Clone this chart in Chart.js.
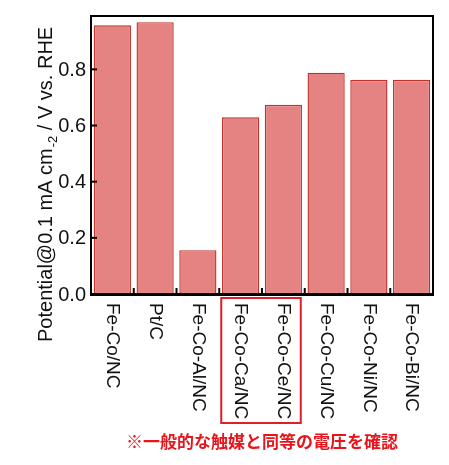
<!DOCTYPE html>
<html lang="ja">
<head>
  <meta charset="UTF-8" />
  <title>Potential bar chart</title>
  <script src="https://cdn.jsdelivr.net/npm/chart.js"></script>
  <style>
    body {
      margin: 0;
      padding: 0;
      background: #ffffff;
    }
    canvas {
      display: block;
    }
  </style>
</head>
<body>
  <canvas id="potChart" width="449" height="465"></canvas>

<script>
  // data
  const catalysts = ['Fe-Co/NC', 'Pt/C', 'Fe-Co-Al/NC', 'Fe-Co-Ca/NC', 'Fe-Co-Ce/NC', 'Fe-Co-Cu/NC', 'Fe-Co-Ni/NC', 'Fe-Co-Bi/NC'];
  const potentials = [0.957, 0.968, 0.156, 0.629, 0.674, 0.788, 0.763, 0.763];
  const yTicks = [0.0, 0.2, 0.4, 0.6, 0.8];
  const highlighted = [3, 4];
  const note = '※一般的な触媒と同等の電圧を確認';

  const latinFont = '"Liberation Sans", Arial, sans-serif';

  // frame, inward ticks, tick labels, axis title, box and note
  const decorations = {
    id: 'decorations',
    afterDraw(chart) {
      const ctx = chart.ctx;
      const area = chart.chartArea;
      const xs = chart.scales.x;
      const ys = chart.scales.y;
      ctx.save();

      // frame
      ctx.strokeStyle = '#000';
      ctx.lineWidth = 2;
      ctx.strokeRect(area.left, area.top, area.right - area.left, area.bottom - area.top);
      ctx.lineWidth = 3;
      ctx.beginPath();
      ctx.moveTo(area.left - 1, area.bottom + 0.5);
      ctx.lineTo(area.right + 1, area.bottom + 0.5);
      ctx.stroke();

      // y ticks + labels
      ctx.lineWidth = 2;
      ctx.fillStyle = '#111';
      ctx.font = '20px ' + latinFont;
      ctx.textAlign = 'right';
      ctx.textBaseline = 'middle';
      yTicks.forEach(v => {
        const y = ys.getPixelForValue(v);
        ctx.beginPath();
        ctx.moveTo(area.left, y);
        ctx.lineTo(area.left + 6, y);
        ctx.stroke();
        ctx.fillText(v.toFixed(1), area.left - 5, y + 1);
      });

      // x ticks at category boundaries
      for (let i = 0; i <= catalysts.length; i++) {
        const x = xs.getPixelForValue(i - 0.5);
        ctx.beginPath();
        ctx.moveTo(x, area.bottom);
        ctx.lineTo(x, area.bottom - 6);
        ctx.stroke();
      }

      // x labels, reading top to bottom
      ctx.font = '19px ' + latinFont;
      ctx.textAlign = 'left';
      ctx.textBaseline = 'middle';
      catalysts.forEach((c, i) => {
        const x = xs.getPixelForValue(i);
        ctx.save();
        ctx.translate(x, area.bottom + 9);
        ctx.rotate(Math.PI / 2);
        ctx.fillText(c, 0, 0);
        ctx.restore();
      });

      // red box round the highlighted labels
      const bx0 = xs.getPixelForValue(highlighted[0] - 0.5) + 2;
      const bx1 = xs.getPixelForValue(highlighted[highlighted.length - 1] + 0.5) - 4;
      ctx.strokeStyle = '#dc1f2a';
      ctx.lineWidth = 2;
      ctx.strokeRect(bx0, area.bottom + 4, bx1 - bx0, 125);

      // y axis title with the cm^-2 exponent
      ctx.fillStyle = '#111';
      ctx.translate(52, 342);
      ctx.rotate(-Math.PI / 2);
      ctx.textAlign = 'left';
      ctx.textBaseline = 'alphabetic';
      let pos = 0;
      ctx.font = '20px ' + latinFont;
      const part1 = 'Potential@0.1 mA cm';
      ctx.fillText(part1, pos, 0);
      pos += ctx.measureText(part1).width;
      ctx.font = '13px ' + latinFont;
      ctx.fillText('-2', pos + 1, 5);
      pos += ctx.measureText('-2').width + 1;
      ctx.font = '20px ' + latinFont;
      ctx.fillText(' / V vs. RHE', pos, 0);
      ctx.restore();

      // note under the chart
      ctx.save();
      ctx.fillStyle = '#e8141c';
      ctx.font = 'bold 17px "Noto Sans CJK JP", sans-serif';
      ctx.textAlign = 'center';
      ctx.textBaseline = 'middle';
      ctx.fillText(note, 262, 442);
      ctx.restore();
    }
  };

  const whiteBg = {
    id: 'whiteBg',
    beforeDraw(chart) {
      const ctx = chart.ctx;
      ctx.save();
      ctx.fillStyle = '#ffffff';
      ctx.fillRect(0, 0, chart.width, chart.height);
      ctx.restore();
    }
  };

  const chart = new Chart(document.getElementById('potChart').getContext('2d'), {
    type: 'bar',
    data: {
      labels: catalysts,
      datasets: [{
        data: potentials,
        backgroundColor: '#e48381',
        borderColor: '#c2302a',
        borderWidth: 1.4,
        borderSkipped: false,
        barPercentage: 0.87,
        categoryPercentage: 1.0
      }]
    },
    options: {
      responsive: false,
      animation: false,
      layout: {
        padding: { left: 91, right: 16, top: 16, bottom: 171 }
      },
      plugins: {
        legend: { display: false },
        tooltip: { enabled: false }
      },
      scales: {
        x: { display: false },
        y: { display: false, min: 0, max: 0.99 }
      }
    },
    plugins: [whiteBg, decorations]
  });
</script>
</body>
</html>
